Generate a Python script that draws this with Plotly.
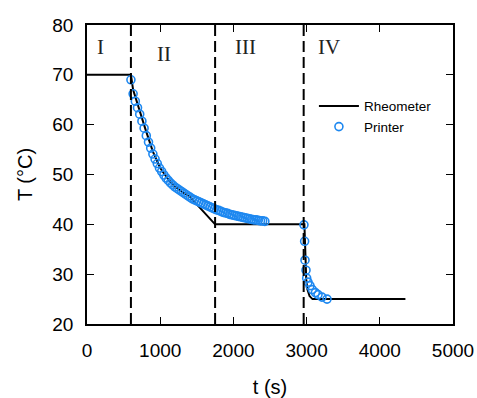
import plotly.graph_objects as go

# Rheometer (black line)
rheo_t = [0, 600, 630, 700, 800, 900, 1000, 1100, 1200, 1300, 1400, 1500, 1750, 2970,
          2985, 2995, 3010, 3040, 3080, 4350]
rheo_T = [70, 70, 67.0, 63.5, 59.0, 54.6, 51.3, 49.2, 47.6, 46.5, 45.6, 44.0, 40, 40,
          33.0, 29.0, 27.0, 25.6, 25.0, 25.0]

# Printer (blue open circles)
printer_t = [600, 630, 660, 690, 720, 750, 780, 810, 840, 870, 900, 930, 960, 990,
             1020, 1050, 1080, 1110, 1140, 1170, 1200, 1230, 1260, 1290, 1320, 1350,
             1380, 1410, 1440, 1470, 1500, 1530, 1560, 1590, 1620, 1650, 1680, 1710,
             1740, 1770, 1800, 1830, 1860, 1890, 1920, 1950, 1980, 2010, 2040, 2070,
             2100, 2130, 2160, 2190, 2220, 2250, 2280, 2310, 2340, 2370, 2400, 2430,
             2964, 2973, 2978, 2992, 3001, 3019, 3046, 3078, 3120, 3156, 3210, 3279]
printer_T = [69.0, 66.2, 64.7, 63.4, 62.1, 60.7, 59.3, 57.8, 56.5, 55.3, 54.1, 53.1,
             52.2, 51.3, 50.6, 49.9, 49.3, 48.8, 48.3, 47.9, 47.5, 47.2, 46.9, 46.6,
             46.3, 46.0, 45.7, 45.4, 45.1, 44.9, 44.7, 44.5, 44.3, 44.1, 43.9, 43.7,
             43.5, 43.3, 43.1, 42.9, 42.8, 42.6, 42.4, 42.3, 42.2, 42.0, 41.9, 41.8,
             41.7, 41.6, 41.5, 41.4, 41.3, 41.2, 41.1, 41.0, 40.9, 40.9, 40.8, 40.7,
             40.7, 40.6,
             39.9, 36.6, 32.8, 30.8, 29.2, 28.4, 27.7, 26.9, 26.3, 25.9, 25.4, 25.0]

# Stage boundaries and labels
stage_bounds = [600, 1750, 2960]
stage_labels = ["I", "II", "III", "IV"]
stage_label_t = [190, 1050, 2170, 3300]
stage_label_T = [75.5, 74.2, 75.6, 75.5]

x_ticks = [0, 1000, 2000, 3000, 4000, 5000]
y_ticks = [20, 30, 40, 50, 60, 70, 80]

fig = go.Figure()
fig.add_trace(go.Scatter(x=rheo_t, y=rheo_T, mode="lines", name="Rheometer",
                         line=dict(color="black", width=2)))
fig.add_trace(go.Scatter(x=printer_t, y=printer_T, mode="markers", name="Printer",
                         marker=dict(symbol="circle-open", size=8, color="#1e88f0",
                                     line=dict(width=1.6, color="#1e88f0"))))

for b in stage_bounds:
    fig.add_shape(type="line", x0=b, x1=b, y0=20, y1=80, xref="x", yref="y",
                  line=dict(color="black", width=2, dash="11px,5px"))

for lab, tx, ty in zip(stage_labels, stage_label_t, stage_label_T):
    fig.add_annotation(x=tx, y=ty, text=lab, showarrow=False,
                       font=dict(family="Liberation Serif", size=21, color="#222"))

axis_common = dict(showline=True, linecolor="black", linewidth=1.5, mirror="ticks",
                   ticks="inside", ticklen=7, tickwidth=1.2, tickcolor="black",
                   showgrid=False, zeroline=False, automargin=False,
                   tickfont=dict(family="Liberation Sans", size=19, color="black"))

fig.update_layout(
    width=477, height=398,
    margin=dict(l=87, r=24, t=25, b=74),
    paper_bgcolor="white", plot_bgcolor="white",
    xaxis=dict(range=[0, 5000], tickvals=x_ticks, ticklabelstandoff=8,
               title=dict(text="t (s)", font=dict(family="Liberation Sans", size=20, color="black"),
                          standoff=21),
               **axis_common),
    yaxis=dict(range=[20, 80], tickvals=y_ticks, ticklabelstandoff=8,
               title=dict(text="T (°C)", font=dict(family="Liberation Sans", size=20, color="black"),
                          standoff=14),
               **axis_common),
    legend=dict(x=0.62, y=0.78, xanchor="left", yanchor="top",
                bgcolor="rgba(0,0,0,0)",
                font=dict(family="Liberation Sans", size=13.5, color="black"),
                tracegroupgap=0, itemwidth=40),
    showlegend=True,
)

fig.write_html("out.html")
